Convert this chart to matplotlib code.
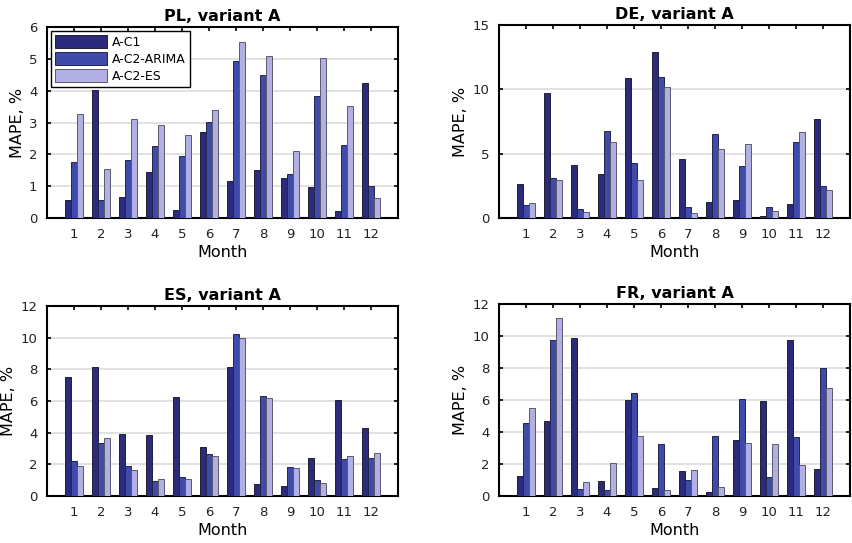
import matplotlib
matplotlib.use("Agg")
import matplotlib.pyplot as plt
import numpy as np

months = list(range(1, 13))
series_names = ["A-C1", "A-C2-ARIMA", "A-C2-ES"]

pl_c1 = [0.55, 4.03, 0.66, 1.46, 0.24, 2.71, 1.16, 1.52, 1.27, 0.97, 0.23, 4.23]
pl_arima = [1.76, 0.57, 1.82, 2.26, 1.96, 3.02, 4.93, 4.49, 1.38, 3.84, 2.29, 1.02]
pl_es = [3.28, 1.53, 3.11, 2.91, 2.60, 3.38, 5.53, 5.10, 2.12, 5.04, 3.52, 0.63]

de_c1 = [2.65, 9.74, 4.10, 3.43, 10.88, 12.91, 4.57, 1.25, 1.40, 0.13, 1.12, 7.66]
de_arima = [0.99, 3.12, 0.70, 6.75, 4.29, 10.96, 0.88, 6.52, 4.05, 0.88, 5.90, 2.52]
de_es = [1.19, 2.94, 0.44, 5.90, 2.94, 10.18, 0.39, 5.38, 5.74, 0.55, 6.68, 2.21]

es_c1 = [7.49, 8.14, 3.91, 3.85, 6.26, 3.12, 8.14, 0.75, 0.65, 2.38, 6.09, 4.27]
es_arima = [2.22, 3.35, 1.90, 0.96, 1.21, 2.68, 10.25, 6.34, 1.84, 0.98, 2.36, 2.43]
es_es = [1.90, 3.64, 1.65, 1.05, 1.05, 2.53, 10.00, 6.17, 1.74, 0.84, 2.55, 2.72]

fr_c1 = [1.23, 4.66, 9.87, 0.92, 5.99, 0.50, 1.54, 0.27, 3.53, 5.93, 9.77, 1.67]
fr_arima = [4.57, 9.75, 0.46, 0.35, 6.43, 3.22, 1.02, 3.74, 6.05, 1.19, 3.70, 7.97]
fr_es = [5.51, 11.15, 0.90, 2.05, 3.78, 0.38, 1.65, 0.58, 3.32, 3.28, 1.96, 6.74]

titles = ["PL, variant A", "DE, variant A", "ES, variant A", "FR, variant A"]
data = [(pl_c1, pl_arima, pl_es), (de_c1, de_arima, de_es),
        (es_c1, es_arima, es_es), (fr_c1, fr_arima, fr_es)]
ylims = [(0, 6), (0, 15), (0, 12), (0, 12)]
yticks = [np.arange(0, 7, 1), np.arange(0, 16, 5), np.arange(0, 13, 2), np.arange(0, 13, 2)]

colors = ["#2c2a7c", "#3f4ba8", "#b1afe3"]
edges = ["#202030", "#25254a", "#5a5a6a"]

W, H = 852, 543
fig = plt.figure(figsize=(W / 100, H / 100), dpi=100)
# axes boxes in pixels: left, right, top, bottom
boxes = [(47, 398, 27, 218), (499, 850, 25, 218), (47, 398, 306, 496), (499, 850, 304, 496)]

bw = 0.222
x = np.array(months)
for i, (title, ser, yl, yt, b) in enumerate(zip(titles, data, ylims, yticks, boxes)):
    l, r, t, bt = b
    ax = fig.add_axes([l / W, 1 - bt / H, (r - l) / W, (bt - t) / H])
    for k in range(3):
        ax.bar(x + (k - 1) * bw, ser[k], width=bw, color=colors[k], edgecolor=edges[k],
               linewidth=0.7, label=series_names[k], zorder=3)
    ax.set_xlim(0, 13)
    ax.set_ylim(*yl)
    ax.set_xticks(months)
    ax.set_yticks(yt)
    ax.yaxis.grid(True, color="#dcdcdc", linewidth=1.2, zorder=0)
    ax.set_axisbelow(True)
    ax.tick_params(direction="in", top=True, right=True, length=3, width=1.2,
                   labelsize=9.5, colors="black", labelcolor="#222222", pad=7)
    for s in ax.spines.values():
        s.set_linewidth(1.5)
    ax.set_title(title, fontsize=11.5, fontweight="bold", pad=4)
    ax.set_xlabel("Month", fontsize=11.5, labelpad=3)
    ax.set_ylabel("MAPE, %", fontsize=11.5, labelpad=3)
    if i == 0:
        leg = ax.legend(loc="upper left", fontsize=9, fancybox=False, framealpha=1,
                        edgecolor="black", handlelength=4.2, handleheight=1.3,
                        borderaxespad=0.3, borderpad=0.3, labelspacing=0.25,
                        handletextpad=0.4)
        leg.get_frame().set_linewidth(1.0)

fig.savefig("out.png", dpi=100)
